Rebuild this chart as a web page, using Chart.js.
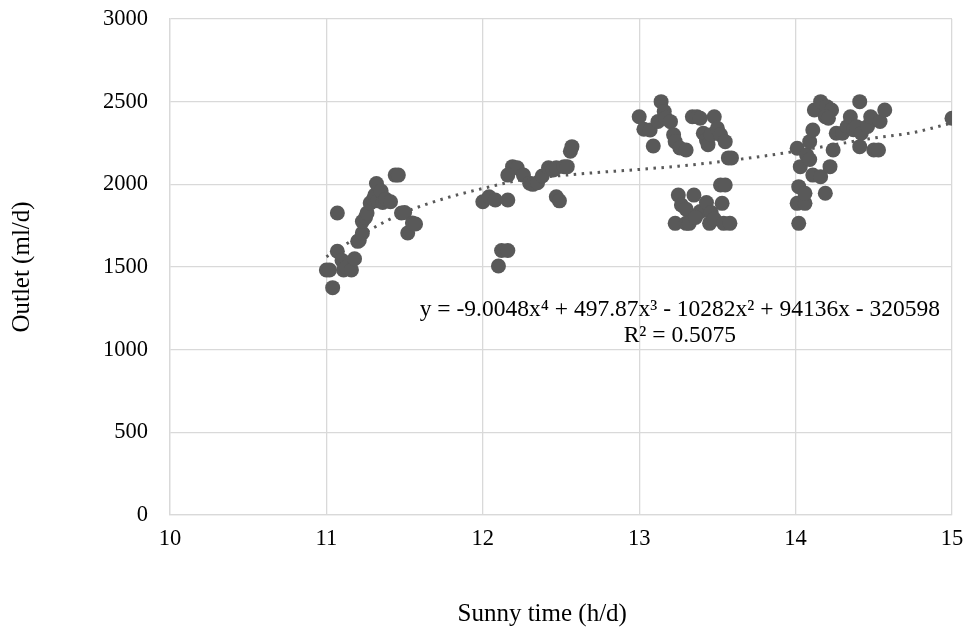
<!DOCTYPE html>
<html>
<head>
<meta charset="utf-8">
<script src="https://cdn.jsdelivr.net/npm/chart.js@4/dist/chart.umd.min.js"></script>
<style>
html,body{margin:0;padding:0;background:#fff;}
#wrap{width:969px;height:633px;}
</style>
</head>
<body>
<div id="wrap"><canvas id="c" width="969" height="633"></canvas></div>
<script>
// Sunny time (h/d)
const sunnyTime = [
  11.00,11.02,11.04,11.07,11.07,11.10,11.11,11.13,11.16,11.18,11.20,11.21,11.23,11.23,11.25,11.26,11.28,11.30,11.31,11.32,11.33,11.35,11.36,11.38,11.41,11.44,11.46,11.48,11.50,11.52,11.55,11.57,
  12.00,12.04,12.08,12.16,12.10,12.12,12.16,12.19,12.22,12.16,12.26,12.30,12.32,12.35,12.38,12.42,12.45,12.47,12.47,12.49,12.52,12.54,12.56,12.57,
  13.00,13.03,13.07,13.09,13.12,13.14,13.16,13.17,13.20,13.22,13.23,13.26,13.30,13.34,13.37,13.39,13.41,13.43,13.44,13.46,13.48,13.50,13.52,13.55,13.57,13.59,13.52,13.55,13.25,13.35,13.27,13.30,13.39,13.43,13.46,13.53,13.23,13.30,13.32,13.45,13.48,13.54,13.58,13.36,
  14.01,14.02,14.01,14.06,14.02,14.06,14.03,14.07,14.09,14.11,14.12,14.16,14.20,14.23,14.19,14.21,14.11,14.16,14.09,14.22,14.19,14.24,14.26,14.30,14.33,14.35,14.37,14.39,14.41,14.42,14.41,14.46,14.48,14.50,14.53,14.54,14.57,
  15.00
];
// Outlet (ml/d)
const outlet = [
  1482,1482,1375,1827,1595,1540,1482,1500,1482,1550,1655,1660,1706,1775,1800,1827,1887,1910,1935,2005,1900,1960,1890,1910,1895,2056,2056,1827,1830,1706,1766,1760,
  1895,1925,1905,1905,1506,1600,1600,2107,2100,2056,2056,2007,2000,2010,2050,2100,2087,2100,1925,1900,2107,2107,2200,2228,
  2409,2333,2329,2232,2380,2500,2440,2400,2379,2300,2258,2220,2208,2409,2409,2400,2309,2268,2240,2300,2409,2339,2300,2258,2160,2160,1996,1996,1935,1935,1875,1850,1835,1890,1830,1885,1764,1764,1764,1764,1790,1764,1764,1800,
  2218,1764,1885,1885,1986,1946,2107,2178,2258,2329,2450,2500,2470,2450,2409,2400,2056,2046,2150,2107,1946,2208,2309,2309,2349,2409,2330,2349,2500,2309,2228,2350,2409,2208,2208,2380,2450,
  2400
];
// Trendline
const trendX = [11,11.25,11.5,11.75,12,12.25,12.5,12.75,13,13.25,13.5,13.75,14,14.25,14.5,14.75,15];
const trendY = [1562,1710,1830,1913,1975,2027,2053,2073,2090,2110,2135,2165,2200,2240,2280,2313,2371];
const xTicks = [10,11,12,13,14,15];
const yTicks = [0,500,1000,1500,2000,2500,3000];
const equationText = "y = -9.0048x\u2074 + 497.87x\u00B3 - 10282x\u00B2 + 94136x - 320598";
const r2Text = "R\u00B2 = 0.5075";
const xTitle = "Sunny time (h/d)";
const yTitle = "Outlet (ml/d)";

const FONT = "'Liberation Serif','Times New Roman',serif";
const FS = 22.5; // tick labels
const FT = 25;   // axis titles
const FE = 23.5; // equation label
const scatterData = sunnyTime.map((x,i)=>({x:x,y:outlet[i]}));
const trendData = trendX.map((x,i)=>({x:x,y:trendY[i]}));

const textPlugin = {
  id:'texts',
  afterDatasetsDraw(chart){
    const ctx = chart.ctx;
    const xs = chart.scales.x, ys = chart.scales.y;
    ctx.save();
    ctx.fillStyle = '#000';
    ctx.font = FE + "px " + FONT;
    ctx.textAlign = 'center';
    ctx.textBaseline = 'middle';
    ctx.fillText(equationText, xs.getPixelForValue(13.26), ys.getPixelForValue(1240));
    ctx.fillText(r2Text, xs.getPixelForValue(13.26), ys.getPixelForValue(1083));
    // x axis title
    ctx.font = FT + "px " + FONT;
    ctx.textBaseline = 'alphabetic';
    ctx.fillText(xTitle, xs.getPixelForValue(12.38), chart.height - 12);
    ctx.restore();
  }
};

new Chart(document.getElementById('c'), {
  type:'scatter',
  data:{
    datasets:[
      {label:'Outlet', data:scatterData, backgroundColor:'#595959', borderColor:'#595959', pointRadius:7.5, pointHoverRadius:7.5, borderWidth:0, order:1},
      {label:'Trend', type:'line', data:trendData, showLine:true, borderColor:'#595959', borderWidth:3, borderDash:[2.5,5.5], pointRadius:0, fill:false, tension:0.4, cubicInterpolationMode:'monotone', order:2}
    ]
  },
  options:{
    responsive:false,
    animation:false,
    events:[],
    layout:{padding:{left:3,right:17,top:19,bottom:0}},
    plugins:{legend:{display:false}, tooltip:{enabled:false}},
    scales:{
      x:{
        type:'linear', min:10, max:15,
        afterBuildTicks(s){ s.ticks = xTicks.map(v=>({value:v})); },
        afterFit(s){ s.height = 118; s.paddingLeft = 0; s.paddingRight = 0; },
        grid:{color:'#d9d9d9', lineWidth:1.3, drawTicks:false},
        border:{color:'#d9d9d9', width:1.3},
        ticks:{color:'#000', font:{family:FONT,size:FS}, padding:11, maxRotation:0, callback:v=>String(v)},
        title:{display:false, text:xTitle}
      },
      y:{
        type:'linear', min:0, max:3000,
        afterBuildTicks(s){ s.ticks = yTicks.map(v=>({value:v})); },
        afterFit(s){ s.width = 167; s.paddingTop = 0; s.paddingBottom = 0; },
        grid:{color:'#d9d9d9', lineWidth:1.3, drawTicks:false},
        border:{color:'#d9d9d9', width:1.3},
        ticks:{color:'#000', font:{family:FONT,size:FS}, padding:22, callback:v=>String(v)},
        title:{display:true, text:yTitle, color:'#000', font:{family:FONT,size:FT}}
      }
    }
  },
  plugins:[textPlugin]
});
</script>
</body>
</html>
